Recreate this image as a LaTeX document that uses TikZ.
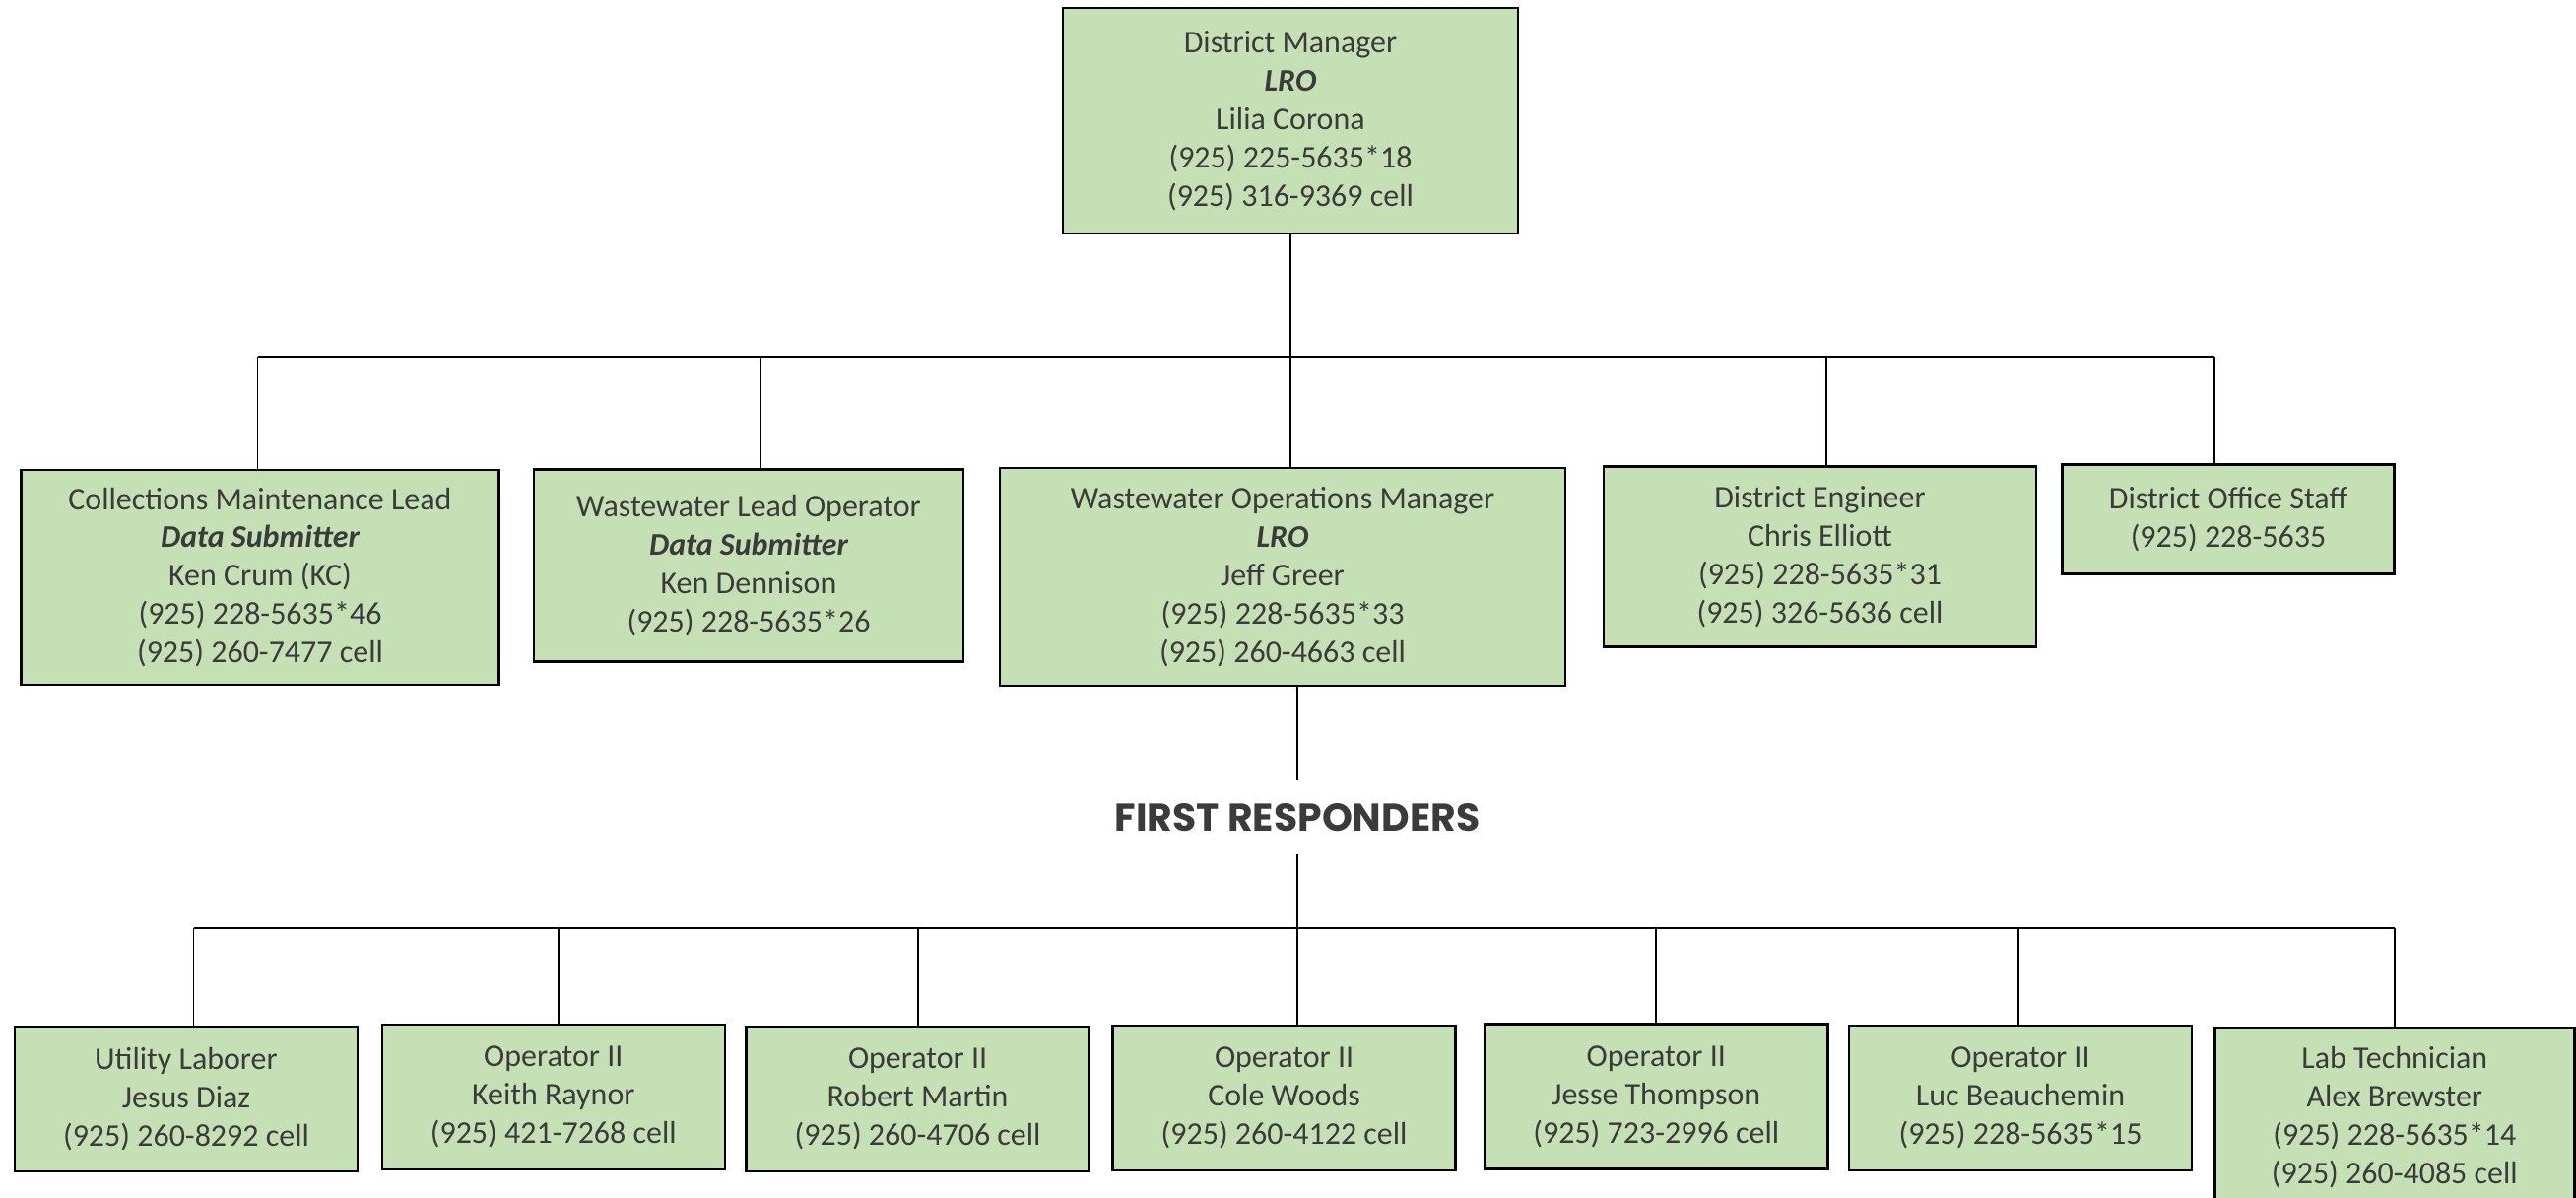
\documentclass[tikz,border=0pt]{standalone}
\usepackage{fontspec}
\setmainfont{Carlito}
\newfontfamily\headfont{Poppins}
\definecolor{boxgreen}{HTML}{C5E0B4}
\definecolor{inkgray}{HTML}{3B3B3B}

\begin{document}
\begin{tikzpicture}[
  staff/.style={draw=black, line width=0.7pt, fill=boxgreen, text=inkgray,
    align=center, inner sep=0pt, font=\fontsize{9.1pt}{11.07pt}\selectfont},
  crew/.style={staff, minimum width=3.48cm, minimum height=1.47cm},
  heading/.style={text=inkgray, inner sep=0pt, minimum height=0.73cm,
    font=\headfont\bfseries\fontsize{11.2pt}{13pt}\selectfont},
  wire/.style={draw=black, line width=0.55pt}
]
\useasboundingbox (0,0) rectangle (26.15,12.16);
\clip (0,0) rectangle (26.15,12.16);

% management
\node [staff, minimum width=4.62cm, minimum height=2.29cm] (dm) at (13.10,10.935)
  {District Manager\\{\bfseries\itshape LRO}\\Lilia Corona\\(925) 225-5635*18\\(925) 316-9369 cell};

\node [staff, minimum width=4.85cm, minimum height=2.18cm] (cml) at (2.64,6.30)
  {Collections Maintenance Lead\\{\bfseries\itshape Data Submitter}\\Ken Crum (KC)\\(925) 228-5635*46\\(925) 260-7477 cell};
\node [staff, minimum width=4.36cm, minimum height=1.95cm] (wlo) at (7.60,6.418)
  {Wastewater Lead Operator\\{\bfseries\itshape Data Submitter}\\Ken Dennison\\(925) 228-5635*26};
\node [staff, minimum width=5.74cm, minimum height=2.21cm] (wom) at (13.02,6.305)
  {Wastewater Operations Manager\\{\bfseries\itshape LRO}\\Jeff Greer\\(925) 228-5635*33\\(925) 260-4663 cell};
\node [staff, minimum width=4.39cm, minimum height=1.83cm] (de) at (18.475,6.51)
  {District Engineer\\Chris Elliott\\(925) 228-5635*31\\(925) 326-5636 cell};
\node [staff, minimum width=3.37cm, minimum height=1.11cm] (dos) at (22.62,6.888)
  {District Office Staff\\(925) 228-5635};

\coordinate (bus1) at (0,8.54);
\draw [wire] (dm.south) -- (dm.south |- wom.north);
\draw [wire] ([xshift=-0.025cm]cml.north |- bus1) -- ([xshift=-0.14cm]dos.north |- bus1);
\foreach \n/\dx in {cml/-0.025,wlo/0.12,de/0.065,dos/-0.14}
  \draw [wire] ([xshift=\dx cm]\n.north) -- ([xshift=\dx cm]\n.north |- bus1);

% first responders
\node [heading] (fr) at (13.17,3.865) {FIRST RESPONDERS};
\draw [wire] (fr.north |- wom.south) -- (fr.north);

\node [crew] (ul) at (1.89,1.003) {Utility Laborer\\Jesus Diaz\\(925) 260-8292 cell};
\node [crew] (kr) at (5.618,1.027) {Operator II\\Keith Raynor\\(925) 421-7268 cell};
\node [crew] (rm) at (9.316,1.003) {Operator II\\Robert Martin\\(925) 260-4706 cell};
\node [crew] (cw) at (13.036,1.016) {Operator II\\Cole Woods\\(925) 260-4122 cell};
\node [crew] (jt) at (16.813,1.03) {Operator II\\Jesse Thompson\\(925) 723-2996 cell};
\node [crew] (lb) at (20.51,1.016) {Operator II\\Luc Beauchemin\\(925) 228-5635*15};
\node [crew, minimum width=3.65cm, minimum height=1.82cm] (ab) at (24.308,0.82)
  {Lab Technician\\Alex Brewster\\(925) 228-5635*14\\(925) 260-4085 cell};

\coordinate (bus2) at (0,2.737);
\draw [wire] (fr.south) -- (fr.south |- bus2);
\draw [wire] ([xshift=0.075cm]ul.north |- bus2) -- (ab.north |- bus2);
\foreach \n/\dx in {ul/0.075,kr/0.054,rm/0,cw/0.134,jt/0,lb/-0.02,ab/0}
  \draw [wire] ([xshift=\dx cm]\n.north) -- ([xshift=\dx cm]\n.north |- bus2);
\end{tikzpicture}
\end{document}
